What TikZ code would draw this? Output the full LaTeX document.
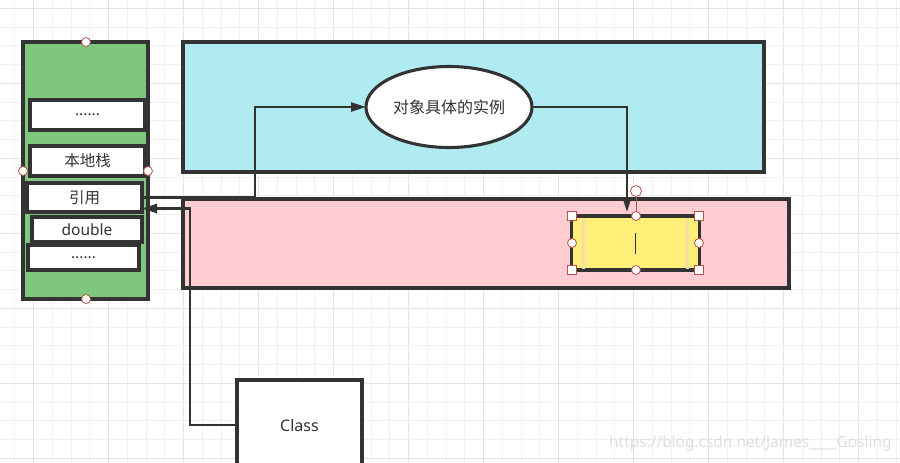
\documentclass[tikz,border=0pt]{standalone}
\usepackage{fontspec}
\setmainfont{Noto Sans}
\newfontfamily\cjk{Noto Sans CJK SC}
\usetikzlibrary{shapes.geometric,arrows.meta}
\definecolor{edge}{HTML}{333333}
\definecolor{stackgreen}{HTML}{7FC77F}
\definecolor{heapcyan}{HTML}{B1EBF2}
\definecolor{heappink}{HTML}{FFCDD2}
\definecolor{objyellow}{HTML}{FFEF78}
\definecolor{beige}{HTML}{F6DDA8}
\definecolor{handlered}{HTML}{B85450}
\definecolor{gridminor}{HTML}{F0F0F0}
\definecolor{gridmajor}{HTML}{E4E4E4}
\tikzset{
  area/.style={draw=edge, line width=3.1pt, inner sep=0pt, outer sep=0pt, anchor=north west},
  slot/.style={draw=edge, fill=white, line width=3.1pt, inner sep=0pt, outer sep=0pt, anchor=north west, text=edge, font=\fontsize{15.5}{17}\selectfont},
  conn/.style={draw=edge, line width=2.3pt, -{Triangle[length=15pt,width=9pt]}},
  hcirc/.style={circle, draw=handlered, fill=white, line width=0.8pt, minimum size=9pt, inner sep=0pt},
  hsq/.style={rectangle, draw=handlered, fill=white, line width=0.8pt, minimum size=9.5pt, inner sep=0pt},
}
\begin{document}
\begin{tikzpicture}[x=1pt,y=-1pt]
\useasboundingbox (0,0) rectangle (900,463);
\clip (0,0) rectangle (900,463);
\fill[white] (0,0) rectangle (900,463);
% grid
\foreach \i in {0,...,47} {
  \pgfmathsetmacro{\gx}{14.95+18.75*\i}
  \pgfmathtruncatemacro{\m}{mod(\i,4)}
  \ifnum\m=1 \draw[gridmajor, line width=1pt] (\gx,0) -- (\gx,463);
  \else \draw[gridminor, line width=1pt] (\gx,0) -- (\gx,463); \fi
}
\foreach \j in {0,...,24} {
  \pgfmathsetmacro{\gy}{8.3+18.75*\j}
  \pgfmathtruncatemacro{\m}{mod(\j,4)}
  \ifnum\m=0 \draw[gridmajor, line width=1pt] (0,\gy) -- (900,\gy);
  \else \draw[gridminor, line width=1pt] (0,\gy) -- (900,\gy); \fi
}
% watermark
\node[anchor=west, text=black!13, font=\fontsize{15.4}{17}\selectfont, inner sep=0pt] (wm) at (609,443) {https://blog.csdn.net/James\_\_\_\_Gosling};
% heap areas
\node[area, fill=heapcyan, minimum width=581pt, minimum height=130pt] (young) at (183,42) {};
\node[area, fill=heappink, minimum width=606pt, minimum height=89pt] (old) at (183,199) {};
% stack
\node[area, fill=stackgreen, minimum width=125pt, minimum height=257pt] (stack) at (23,42) {};
\node[slot, minimum width=115pt, minimum height=30pt] (s1) at (30,100) {......};
\node[slot, minimum width=115pt, minimum height=30pt] (s2) at (30,146) {\cjk 本地栈};
\node[slot, minimum width=115pt, minimum height=29pt] (yy) at (27,183) {\cjk 引用};
\node[slot, minimum width=110pt, minimum height=25pt] (s4) at (32,217) {double};
\node[slot, minimum width=111pt, minimum height=25pt] (s5) at (28,245) {......};
\node[hcirc] (st) at (86,42) {};
\node[hcirc] (sb) at (86,299) {};
\node[hcirc] (sl) at (23,171) {};
\node[hcirc] (sr) at (148,171) {};
% instance ellipse
\node[ellipse, draw=edge, fill=white, line width=3.1pt, outer sep=0pt, minimum width=166pt, minimum height=81pt, inner sep=0pt, text=edge, font=\cjk\fontsize{16}{18}\selectfont] (inst) at (449,107) {对象具体的实例};
% yellow object
\node[rectangle, draw=edge, fill=objyellow, line width=3.1pt, outer sep=0pt, minimum width=128pt, minimum height=54pt, inner sep=0pt] (obj) at (635.5,243) {};
\draw[beige, line width=3pt] (583,218) -- (583,269);
\draw[beige, line width=3pt] (687.5,218) -- (687.5,269);
\draw[edge, line width=1pt] (obj.center) ++(0,-10.5) -- ++(0,21);
% class box
\node[area, fill=white, minimum width=125pt, minimum height=90pt, text=edge, font=\fontsize{16}{18}\selectfont, anchor=center] (cls) at (299.5,425) {Class};
% connectors
\coordinate (objin) at (627,212);
\draw[conn] (yy.east) -- ++(113,0) |- (inst.west);
\draw[conn] (inst.east) -| (objin);
\draw[conn] (cls.west) -- ++(-47,0) |- ([yshift=-11pt]yy.east);
% selection handles
\draw[handlered, line width=0.8pt] (636,197) -- (636,216);
\node[hcirc, minimum size=11pt] (rot) at (636,191) {};
\node[hsq] (c1) at (572,216) {};
\node[hsq] (c2) at (699,216) {};
\node[hsq] (c3) at (572,270) {};
\node[hsq] (c4) at (699,270) {};
\node[hcirc] (m1) at (636,216) {};
\node[hcirc] (m2) at (636,270) {};
\node[hcirc] (m3) at (572,243) {};
\node[hcirc] (m4) at (699,243) {};
\end{tikzpicture}
\end{document}
